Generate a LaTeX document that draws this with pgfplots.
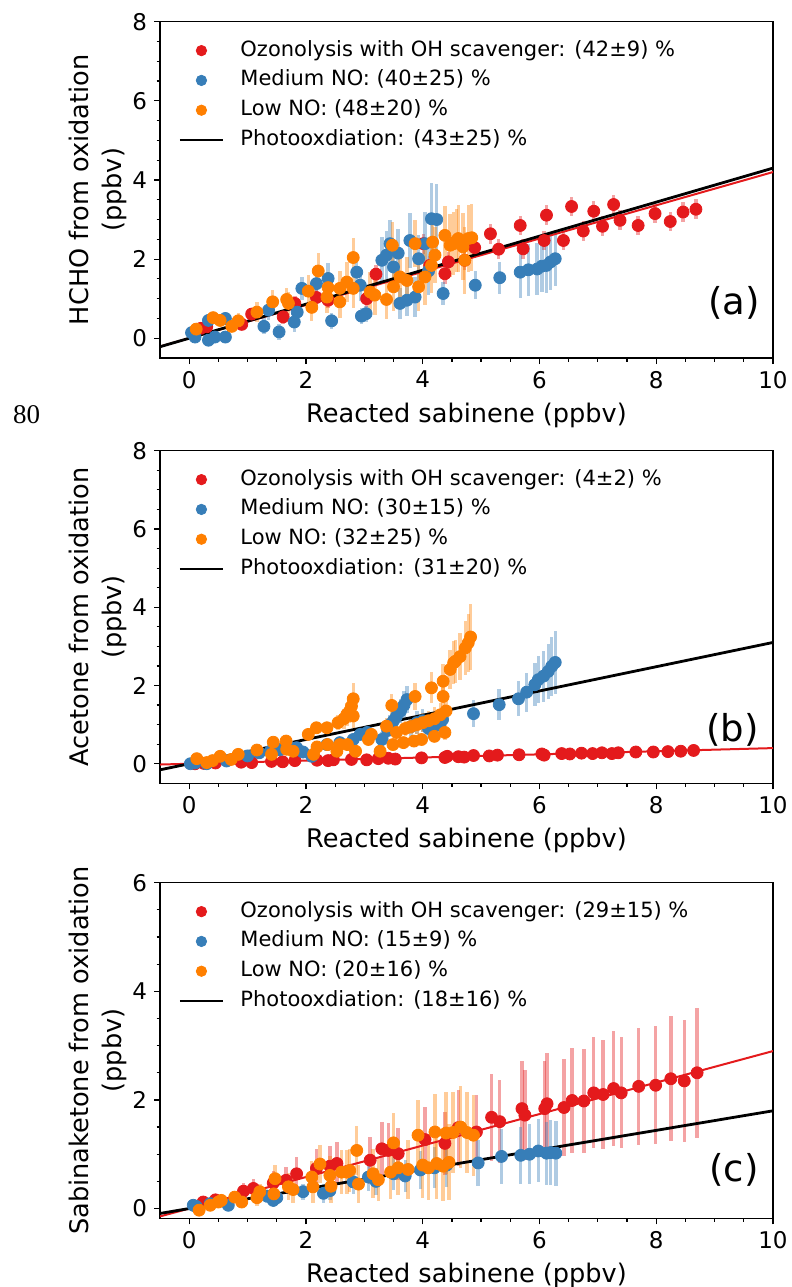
\documentclass[border=0pt]{standalone}
\usepackage{fontspec}
\setmainfont{DejaVu Sans}
\newfontfamily\seriffont{Liberation Serif}
\usepackage{pgfplots}
\pgfplotsset{compat=1.18}
\definecolor{cred}{HTML}{E41A1C}
\definecolor{cblue}{HTML}{377EB8}
\definecolor{corange}{HTML}{FF7F00}
\pgfplotsset{
 panel/.style={scale only axis,width=306.5pt,xmin=-0.5,xmax=10,xtick={0,2,...,10},
  minor x tick num=3,minor y tick num=3,tick align=outside,xtick pos=bottom,ytick pos=left,
  major tick length=3pt,minor tick length=1.75pt,axis line style={line width=0.6pt},
  every tick/.style={black,line width=0.6pt},
  ticklabel style={font=\fontsize{11.5}{13}\selectfont},
  /pgf/number format/assume math mode=true,
  xlabel={Reacted sabinene (ppbv)},
  xlabel style={font=\fontsize{12.8}{15}\selectfont,at={(axis description cs:0.5,0)},anchor=base,yshift=-32pt},
  ylabel style={font=\fontsize{12.8}{16.5}\selectfont,align=center,at={(axis description cs:-0.102,0.5)},anchor=center},
  legend image code/.code={\draw[mark repeat=2,mark phase=2,##1,mark size=2.6pt] plot coordinates {(0cm,0cm)(0.38cm,0cm)(0.76cm,0cm)};},
  legend style={draw=none,fill=none,at={(rel axis cs:0,1)},anchor=north west,xshift=9pt,yshift=-9pt,
   inner sep=0pt,row sep=4.4pt,column sep=8pt,font=\fontsize{10.5}{12.6}\selectfont,
   nodes={inner sep=0pt,text height=8pt,text depth=2.5pt},legend cell align=left},
 },
 sc/.style={only marks,mark=*,mark size=3pt,color=#1,mark options={fill=#1,draw=#1},
  error bars/.cd,y dir=both,y explicit,error mark=none,
  error bar style={line width=1.7pt,#1,opacity=0.4}},
 fitline/.style={no marks,line width=#1},
}
\begin{document}
\begin{tikzpicture}
\useasboundingbox (0,0) rectangle (396pt,-643.5pt);
\node[font=\seriffont\fontsize{13.5}{15}\selectfont,anchor=base west,inner sep=0pt] at (6.3pt,-211.5pt) {80};

% (a) HCHO
\begin{axis}[panel,at={(80pt,-179pt)},anchor=south west,height=168.15pt,
 ymin=-0.5,ymax=8,ytick={0,2,...,8},ylabel={HCHO from oxidation\\(ppbv)}]
\addplot+[sc=cred] table[x=x,y=y,y error=e] {
x y e
0.20 0.25 0.12
0.30 0.29 0.12
0.90 0.35 0.15
1.07 0.61 0.15
1.61 0.54 0.18
1.81 0.88 0.18
2.18 1.03 0.2
2.38 0.96 0.2
3.04 1.00 0.22
3.20 1.62 0.22
4.01 2.39 0.25
4.12 1.84 0.25
4.38 1.63 0.25
4.44 1.93 0.25
4.72 1.97 0.25
4.89 2.29 0.25
5.16 2.64 0.25
5.30 2.25 0.25
5.67 2.85 0.25
5.72 2.26 0.25
6.08 2.47 0.25
6.12 3.11 0.25
6.41 2.47 0.25
6.55 3.33 0.25
6.75 2.71 0.25
6.93 3.21 0.25
7.08 2.83 0.25
7.27 3.38 0.25
7.38 2.98 0.25
7.69 2.85 0.25
7.98 3.15 0.25
8.24 2.95 0.25
8.46 3.19 0.25
8.68 3.26 0.25
};
\addlegendentry{Ozonolysis with OH scavenger: (42±9) \%}
\addplot+[sc=cblue] table[x=x,y=y,y error=e] {
x y e
0.04 0.14 0.1
0.10 0.03 0.1
0.33 0.45 0.12
0.33 -0.05 0.12
0.44 0.03 0.12
0.62 0.50 0.15
0.62 0.03 0.15
1.28 0.30 0.2
1.36 0.71 0.25
1.54 0.16 0.2
1.80 0.41 0.25
1.85 0.66 0.3
1.93 1.26 0.3
2.18 1.38 0.35
2.38 1.51 0.4
2.44 0.44 0.2
2.87 1.67 0.45
2.93 1.34 0.4
2.95 0.56 0.2
3.03 0.62 0.2
3.30 1.97 0.6
3.38 2.10 0.6
3.44 2.39 0.6
3.50 1.80 0.6
3.58 2.15 0.6
3.61 0.88 0.4
3.73 0.96 0.4
3.78 2.47 0.7
3.87 1.04 0.5
3.93 2.01 0.6
4.04 2.39 0.8
4.10 1.70 0.6
4.15 3.02 0.9
4.24 3.00 0.9
4.35 1.13 0.3
4.90 1.34 0.35
5.32 1.53 0.4
5.67 1.67 0.65
5.81 1.73 0.65
5.96 1.75 0.65
6.04 1.82 0.65
6.12 1.84 0.7
6.19 1.93 0.7
6.27 2.01 0.7
};
\addlegendentry{Medium NO: (40±25) \%}
\addplot+[sc=corange] table[x=x,y=y,y error=e] {
x y e
0.12 0.23 0.15
0.41 0.52 0.15
0.53 0.45 0.15
0.73 0.30 0.15
0.84 0.44 0.2
1.16 0.66 0.25
1.43 0.92 0.3
1.67 0.98 0.3
1.70 0.88 0.3
2.04 1.19 0.4
2.10 0.78 0.35
2.21 1.70 0.45
2.36 1.04 0.4
2.38 1.28 0.4
2.58 0.92 0.4
2.58 1.26 0.45
2.70 1.42 0.5
2.81 2.04 0.5
2.81 1.26 0.5
3.10 1.17 0.5
3.18 1.09 0.5
3.38 0.98 0.5
3.48 2.35 0.6
3.50 1.30 0.6
3.61 1.55 0.6
3.73 1.46 0.6
3.87 2.39 0.6
3.93 1.30 0.6
4.04 1.55 0.7
4.15 1.84 0.7
4.17 2.43 0.7
4.21 2.10 0.7
4.38 2.60 0.75
4.47 2.35 0.8
4.53 2.39 0.8
4.58 2.47 0.8
4.61 2.52 0.85
4.69 2.31 0.85
4.72 1.97 0.85
4.78 2.52 0.85
4.84 2.54 0.85
};
\addlegendentry{Low NO: (48±20) \%}
\addplot[fitline=1pt,cred,forget plot] coordinates {(-0.5,-0.21) (10,4.2)};
\addplot[fitline=1.4pt,black] coordinates {(-0.5,-0.215) (10,4.3)};
\addlegendentry{Photooxdiation: (43±25) \%}
\node[anchor=east,inner sep=0pt,font=\fontsize{18.5}{20}\selectfont] at (rel axis cs:0.979,0.164) {(a)};
\end{axis}

% (b) Acetone
\begin{axis}[panel,at={(80pt,-391.65pt)},anchor=south west,height=166.3pt,
 ymin=-0.5,ymax=8,ytick={0,2,...,8},ylabel={Acetone from oxidation\\(ppbv)}]
\addplot+[sc=cred] table[x=x,y=y,y error=e] {
x y e
0.10 0.00 0.03
0.25 0.01 0.03
0.45 0.02 0.03
0.89 0.04 0.03
1.07 0.03 0.03
1.41 0.06 0.03
1.60 0.05 0.03
1.81 0.08 0.03
2.19 0.09 0.03
2.38 0.08 0.03
2.47 0.10 0.03
2.78 0.11 0.03
3.04 0.10 0.03
3.24 0.13 0.03
3.41 0.14 0.03
3.53 0.12 0.03
3.98 0.15 0.03
4.38 0.16 0.03
4.42 0.19 0.03
4.61 0.18 0.03
4.71 0.17 0.03
4.87 0.21 0.03
5.14 0.20 0.03
5.28 0.22 0.03
5.65 0.23 0.03
6.04 0.25 0.03
6.08 0.22 0.03
6.38 0.26 0.03
6.52 0.25 0.03
6.72 0.27 0.03
6.91 0.26 0.03
7.07 0.28 0.03
7.24 0.26 0.03
7.35 0.28 0.03
7.65 0.30 0.03
7.95 0.30 0.03
8.20 0.31 0.03
8.42 0.32 0.03
8.64 0.34 0.03
};
\addlegendentry{Ozonolysis with OH scavenger: (4±2) \%}
\addplot+[sc=cblue] table[x=x,y=y,y error=e] {
x y e
0.02 0.00 0.05
0.10 0.02 0.05
0.30 0.00 0.05
0.64 0.07 0.08
1.00 0.20 0.1
1.20 0.28 0.1
1.39 0.32 0.1
1.55 0.36 0.1
1.70 0.45 0.1
1.84 0.41 0.1
1.95 0.30 0.1
2.10 0.19 0.1
2.36 0.49 0.12
2.58 0.54 0.15
2.81 0.62 0.15
2.93 0.75 0.15
3.05 0.80 0.2
3.30 0.62 0.2
3.40 0.85 0.25
3.44 1.00 0.25
3.50 1.10 0.3
3.55 1.21 0.3
3.62 1.35 0.3
3.68 1.50 0.35
3.73 1.64 0.35
3.80 0.95 0.25
3.90 1.05 0.3
4.00 1.10 0.3
4.10 0.90 0.25
4.20 0.95 0.25
4.30 1.05 0.3
4.34 1.13 0.3
4.87 1.28 0.35
5.31 1.51 0.4
5.64 1.66 0.45
5.78 1.83 0.5
5.92 2.02 0.55
5.98 2.15 0.6
6.07 2.24 0.65
6.15 2.36 0.7
6.21 2.49 0.75
6.27 2.59 0.8
};
\addlegendentry{Medium NO: (30±15) \%}
\addplot+[sc=corange] table[x=x,y=y,y error=e] {
x y e
0.13 0.13 0.05
0.30 0.03 0.05
0.40 0.08 0.05
0.53 0.19 0.06
0.72 0.11 0.06
0.84 0.24 0.07
1.16 0.35 0.08
1.41 0.24 0.08
1.44 0.55 0.1
1.66 0.58 0.1
1.67 0.37 0.1
1.78 0.32 0.1
2.04 0.75 0.12
2.13 0.24 0.1
2.18 0.92 0.15
2.19 0.43 0.1
2.36 0.92 0.15
2.37 0.49 0.1
2.53 0.32 0.1
2.55 1.05 0.2
2.58 0.49 0.12
2.65 1.15 0.25
2.70 1.26 0.3
2.71 0.49 0.12
2.75 1.35 0.3
2.78 1.47 0.35
2.81 1.66 0.4
2.81 1.22 0.3
2.85 0.32 0.1
3.07 0.62 0.15
3.12 0.75 0.15
3.27 0.32 0.1
3.38 0.96 0.2
3.47 1.49 0.3
3.49 0.49 0.12
3.55 0.80 0.2
3.67 0.54 0.12
3.70 0.90 0.2
3.80 0.95 0.2
3.85 0.58 0.15
3.87 1.72 0.35
3.90 1.00 0.25
3.98 0.62 0.15
4.00 1.05 0.25
4.10 1.10 0.25
4.15 1.94 0.4
4.20 0.70 0.15
4.20 1.15 0.3
4.30 1.25 0.3
4.35 2.11 0.45
4.38 0.80 0.2
4.40 1.35 0.3
4.35 1.72 0.35
4.47 2.41 0.5
4.53 2.58 0.55
4.56 2.62 0.55
4.64 2.74 0.6
4.73 2.96 0.7
4.78 3.09 0.75
4.82 3.24 0.85
};
\addlegendentry{Low NO: (32±25) \%}
\addplot[fitline=1pt,cred,forget plot] coordinates {(-0.5,-0.02) (10,0.4)};
\addplot[fitline=1.4pt,black] coordinates {(-0.5,-0.155) (10,3.1)};
\addlegendentry{Photooxdiation: (31±20) \%}
\node[anchor=east,inner sep=0pt,font=\fontsize{18.5}{20}\selectfont] at (rel axis cs:0.977,0.16) {(b)};
\end{axis}

% (c) Sabinaketone
\begin{axis}[panel,at={(80pt,-609.15pt)},anchor=south west,height=167.8pt,
 ymin=-0.18,ymax=6,ytick={0,2,4,6},ylabel={Sabinaketone from oxidation\\(ppbv)}]
\addplot+[sc=cred] table[x=x,y=y,y error=e] {
x y e
0.24 0.12 0.06
0.45 0.16 0.08
0.93 0.32 0.15
1.10 0.37 0.18
1.44 0.47 0.22
1.66 0.52 0.25
1.84 0.64 0.3
2.18 0.74 0.35
2.41 0.78 0.37
2.53 0.83 0.4
3.10 0.89 0.43
3.30 1.10 0.5
3.41 1.07 0.5
3.58 1.01 0.48
4.04 1.27 0.6
4.38 1.20 0.58
4.61 1.49 0.7
4.92 1.41 0.68
5.18 1.68 0.8
5.32 1.60 0.77
5.70 1.84 0.88
5.75 1.72 0.83
6.09 1.84 0.88
6.13 1.93 0.93
6.42 1.86 0.9
6.56 1.99 0.96
6.76 1.98 0.95
6.93 2.13 1.02
7.09 2.10 1.0
7.27 2.21 1.06
7.40 2.13 1.02
7.70 2.25 1.08
7.99 2.27 1.09
8.25 2.39 1.15
8.48 2.35 1.13
8.70 2.50 1.2
};
\addlegendentry{Ozonolysis with OH scavenger: (29±15) \%}
\addplot+[sc=cblue] table[x=x,y=y,y error=e] {
x y e
0.07 0.06 0.05
0.12 0.04 0.05
0.36 0.09 0.06
0.67 0.06 0.08
1.33 0.23 0.12
1.44 0.15 0.12
1.50 0.20 0.12
1.95 0.31 0.15
2.30 0.28 0.18
2.41 0.33 0.18
2.81 0.49 0.22
3.07 0.58 0.25
3.20 0.50 0.25
3.50 0.64 0.3
3.70 0.60 0.3
3.96 0.71 0.35
4.20 0.75 0.38
4.41 0.80 0.4
4.95 0.84 0.42
5.35 0.96 0.5
5.68 0.98 0.52
5.83 1.00 0.55
5.98 1.06 0.58
6.12 1.02 0.58
6.19 1.03 0.6
6.28 1.02 0.6
};
\addlegendentry{Medium NO: (15±9) \%}
\addplot+[sc=corange] table[x=x,y=y,y error=e] {
x y e
0.17 -0.03 0.05
0.36 0.06 0.06
0.50 0.12 0.06
0.55 0.15 0.07
0.78 0.21 0.1
0.90 0.12 0.1
1.16 0.20 0.15
1.21 0.31 0.15
1.45 0.27 0.2
1.47 0.55 0.25
1.70 0.40 0.25
1.78 0.35 0.25
2.10 0.58 0.3
2.12 0.40 0.3
2.24 0.82 0.35
2.41 0.61 0.35
2.43 0.41 0.3
2.61 0.67 0.4
2.70 0.67 0.4
2.75 0.70 0.4
2.87 1.07 0.45
2.90 0.45 0.35
3.15 0.64 0.45
3.24 0.53 0.4
3.45 0.67 0.5
3.50 1.21 0.55
3.58 0.75 0.5
3.75 0.72 0.55
3.92 1.35 0.65
4.00 0.80 0.6
4.10 0.75 0.6
4.21 1.41 0.7
4.24 0.83 0.65
4.35 0.78 0.65
4.40 1.39 0.75
4.45 0.85 0.7
4.52 1.40 0.75
4.65 1.50 0.75
4.76 1.40 0.75
4.87 1.35 0.75
};
\addlegendentry{Low NO: (20±16) \%}
\addplot[fitline=1pt,cred,forget plot] coordinates {(-0.5,-0.145) (10,2.9)};
\addplot[fitline=1.4pt,black] coordinates {(-0.5,-0.09) (10,1.8)};
\addlegendentry{Photooxdiation: (18±16) \%}
\node[anchor=east,inner sep=0pt,font=\fontsize{18.5}{20}\selectfont] at (rel axis cs:0.977,0.144) {(c)};
\end{axis}
\end{tikzpicture}
\end{document}
